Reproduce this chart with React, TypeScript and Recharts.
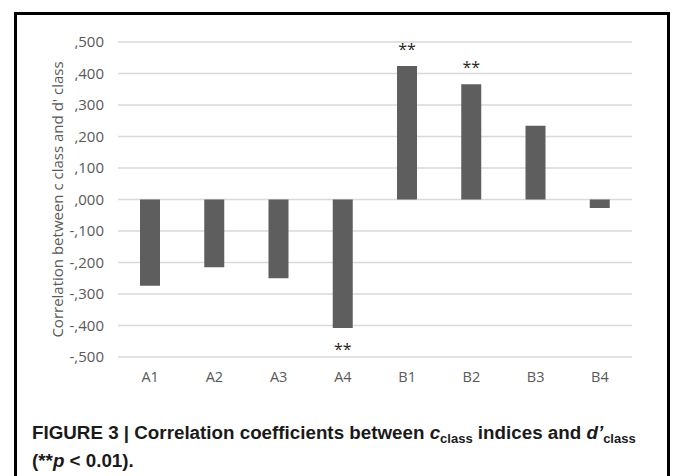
import React from "react";
import { Bar, BarChart, CartesianGrid, LabelList, XAxis, YAxis } from "recharts";

// 各条件の相関係数
const categories = ["A1", "A2", "A3", "A4", "B1", "B2", "B3", "B4"];
const correlations = [-0.274, -0.215, -0.25, -0.408, 0.424, 0.366, 0.234, -0.027];
const significance = ["", "", "", "**", "**", "**", "", ""];
const yTicks = [0.5, 0.4, 0.3, 0.2, 0.1, 0, -0.1, -0.2, -0.3, -0.4, -0.5];

const data = categories.map((name, i) => ({
  name,
  value: correlations[i],
  sig: significance[i],
}));

const axisColor = "#595959";

// ",500" / "-,100" のような表記
const formatTick = (v: number) => {
  const s = Math.abs(v).toFixed(3).replace(/^0/, "").replace(".", ",");
  return (v < 0 ? "-" : "") + s;
};

const SigLabel = (props: any) => {
  const { x, y, width, height, index } = props;
  const mark = significance[index];
  if (!mark) return null;
  const top = Math.min(y, y + height);
  const bottom = Math.max(y, y + height);
  const cx = x + width / 2;
  const ty = correlations[index] >= 0 ? top - 11 : bottom + 27;
  return (
    <text x={cx} y={ty} textAnchor="middle" fontSize={16} fill="#262626" fontFamily="Open Sans">
      {mark}
    </text>
  );
};

const YTitle = (props: any) => {
  const { viewBox } = props;
  const cx = 57;
  const cy = viewBox.y + viewBox.height / 2;
  return (
    <text
      x={cx}
      y={cy}
      transform={`rotate(-90 ${cx} ${cy})`}
      textAnchor="middle"
      dominantBaseline="central"
      fontSize={15}
      fill={axisColor}
      fontFamily="Open Sans"
    >
      Correlation between c class and d' class
    </text>
  );
};

export default function App() {
  const sub = { fontSize: 13, position: "relative" as const, top: 4 };
  return (
    <div style={{ position: "absolute", left: 0, top: 0, width: 673, height: 476, overflow: "hidden", background: "#fff" }}>
      <div
        style={{
          position: "absolute",
          left: 14,
          top: 12,
          width: 650,
          height: 480,
          border: "3px solid #000",
        }}
      />
      <div style={{ position: "absolute", left: 0, top: 0 }}>
        <BarChart
          width={673}
          height={400}
          data={data}
          margin={{ top: 42, right: 41, left: 0, bottom: 13 }}
          style={{ fontFamily: "Open Sans" }}
        >
          <CartesianGrid vertical={false} stroke="#d9d9d9" strokeWidth={1.3} />
          <XAxis
            dataKey="name"
            axisLine={false}
            tickLine={false}
            height={30}
            tickMargin={9}
            tick={{ fill: axisColor, fontSize: 14.5 }}
            interval={0}
          />
          <YAxis
            domain={[-0.5, 0.5]}
            ticks={yTicks}
            tickFormatter={formatTick}
            axisLine={false}
            tickLine={false}
            width={118}
            tickMargin={8}
            tick={{ fill: axisColor, fontSize: 15 }}
            interval={0}
            label={{ content: <YTitle /> }}
          />
          <Bar dataKey="value" fill="#5e5e5e" barSize={20} isAnimationActive={false}>
            <LabelList dataKey="sig" content={<SigLabel />} />
          </Bar>
        </BarChart>
      </div>
      <div
        style={{
          position: "absolute",
          left: 32,
          top: 420,
          fontFamily: "'Liberation Sans', Arial, sans-serif",
          fontWeight: "bold",
          fontSize: 18.8,
          lineHeight: "26px",
          color: "#1a1a1a",
          whiteSpace: "nowrap",
        }}
      >
        <div>
          FIGURE 3 | Correlation coefficients between <i>c</i>
          <span style={sub}>class</span> indices and <i>d’</i>
          <span style={sub}>class</span>
        </div>
        <div>
          (**<i>p</i> &lt; 0.01).
        </div>
      </div>
    </div>
  );
}
